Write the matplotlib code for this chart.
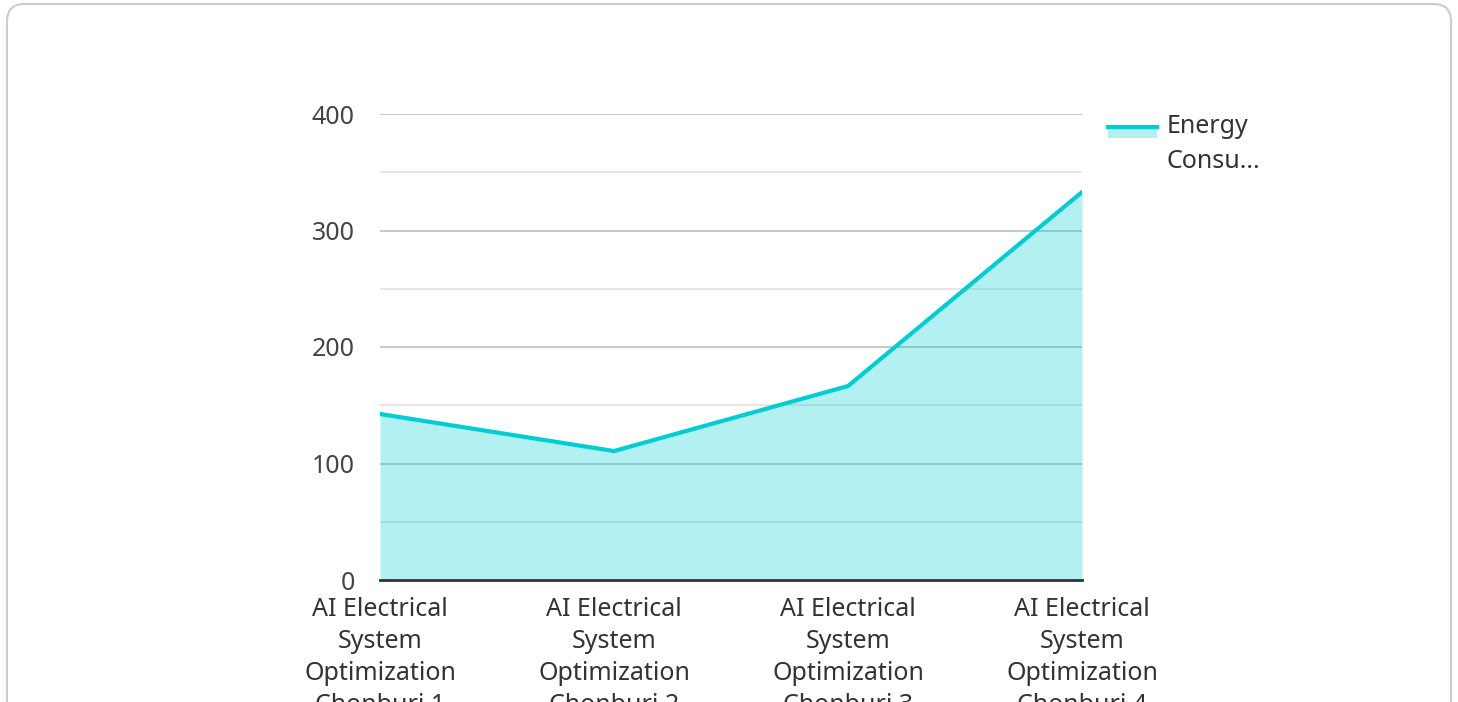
import matplotlib
matplotlib.use("Agg")
import matplotlib.pyplot as plt
from matplotlib.patches import FancyBboxPatch, Rectangle
from matplotlib.lines import Line2D

plt.rcParams['font.family'] = ['Noto Sans', 'DejaVu Sans']

categories = [
    "AI Electrical\nSystem\nOptimization\nChonburi 1",
    "AI Electrical\nSystem\nOptimization\nChonburi 2",
    "AI Electrical\nSystem\nOptimization\nChonburi 3",
    "AI Electrical\nSystem\nOptimization\nChonburi 4",
]
values = [142.5, 110.7, 166.5, 333.0]
series_name = "Energy\nConsu..."
y_ticks = [0, 100, 200, 300, 400]
y_minor = [50, 150, 250, 350]

W, H = 1458, 702
fig = plt.figure(figsize=(W / 100, H / 100), dpi=100)
fig.patch.set_facecolor("white")

def fx(px):
    return px / W

def fy(py):
    return 1 - py / H

# card border
card = FancyBboxPatch((fx(7), fy(740)), fx(1451) - fx(7), fy(4) - fy(740),
                      boxstyle="round,pad=0,rounding_size=0.012",
                      transform=fig.transFigure, facecolor="white",
                      edgecolor="#cccccc", linewidth=1.5, mutation_aspect=W / H,
                      zorder=-10)
fig.add_artist(card)

ax = fig.add_axes([fx(380), fy(580), fx(1082) - fx(380), fy(114) - fy(580)])
ax.set_zorder(5)
ax.set_facecolor("none")
x = list(range(len(categories)))

for t in y_ticks[1:]:
    ax.axhline(t, color="#c8c8c8", lw=1.4, zorder=1)
for t in y_minor:
    ax.axhline(t, color="#e4e4e4", lw=1.3, zorder=1)

color = "#00CED1"
ax.fill_between(x, values, 0, color=color, alpha=0.3, lw=0, zorder=2)
ax.plot(x, values, color=color, lw=3, zorder=3, solid_joinstyle="miter")

ax.set_xlim(0, 3)
ax.set_ylim(0, 400)
ax.set_yticks(y_ticks)
ax.set_yticklabels([str(t) for t in y_ticks], fontsize=18, color="#444444")
ax.set_xticks(x)
ax.set_xticklabels(categories, fontsize=18, color="#333333", linespacing=1.38)
ax.tick_params(axis="y", length=0, pad=18)
ax.tick_params(axis="x", length=0, pad=12)
for s in ["top", "right", "left"]:
    ax.spines[s].set_visible(False)
ax.spines["bottom"].set_color("#333333")
ax.spines["bottom"].set_linewidth(2)
ax.spines["bottom"].set_zorder(4)

# legend
fig.add_artist(Rectangle((fx(1108), fy(138)), fx(1157) - fx(1108), fy(126) - fy(138),
                         transform=fig.transFigure, facecolor=color, alpha=0.3, lw=0))
fig.add_artist(Line2D([fx(1108), fx(1157)], [fy(127), fy(127)],
                      transform=fig.transFigure, color=color, lw=3))
fig.text(fx(1167), fy(114), series_name, fontsize=18, color="#333333",
         va="top", ha="left", linespacing=1.5)

fig.savefig("out.png", dpi=100, facecolor="white")
